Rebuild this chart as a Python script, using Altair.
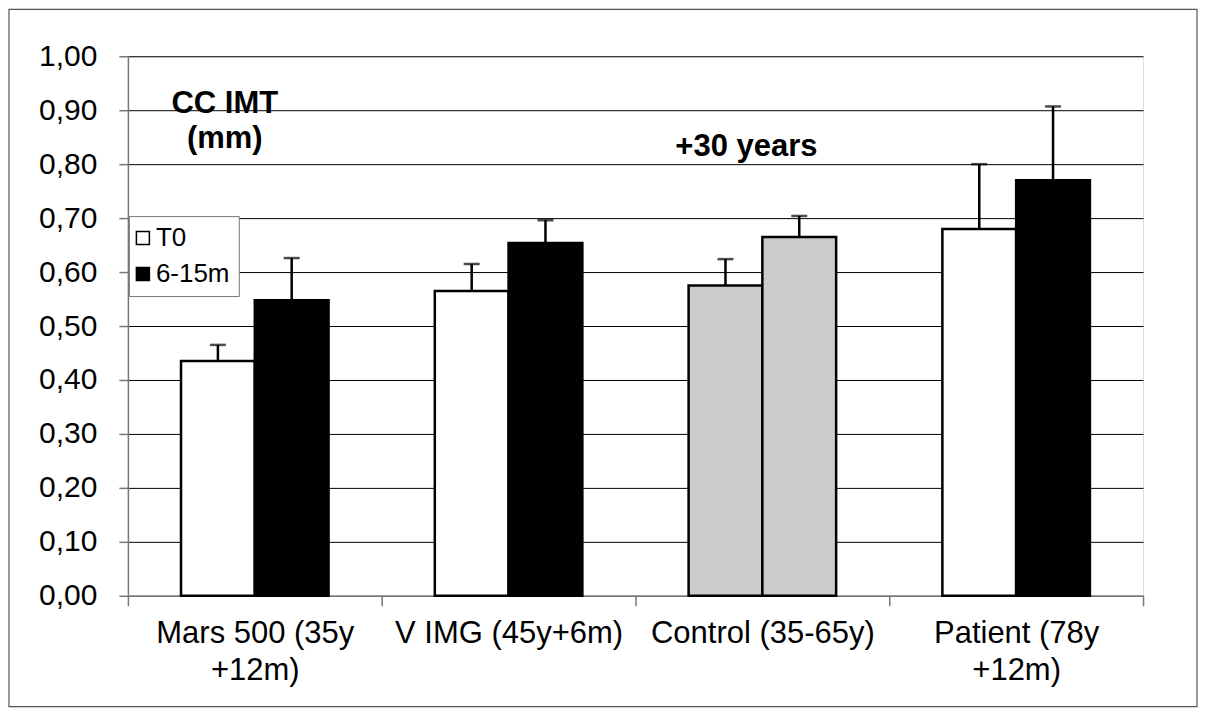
import altair as alt
import pandas as pd

categories = ["Mars 500 (35y\n+12m)", "V IMG (45y+6m)", "Control (35-65y)", "Patient (78y\n+12m)"]
series = ["T0", "6-15m"]
t0_values = [0.435, 0.565, 0.575, 0.680]
m615_values = [0.548, 0.654, 0.665, 0.770]
t0_errors = [0.030, 0.050, 0.049, 0.120]
m615_errors = [0.078, 0.042, 0.039, 0.137]
y_ticks = [0.0, 0.1, 0.2, 0.3, 0.4, 0.5, 0.6, 0.7, 0.8, 0.9, 1.0]
fill_keys = ["T0", "6-15m", "Control"]
fill_colors = ["#ffffff", "#000000", "#cccccc"]

rows = []
for i, c in enumerate(categories):
    for s, vals, errs in ((series[0], t0_values, t0_errors), (series[1], m615_values, m615_errors)):
        rows.append({
            "category": c,
            "series": s,
            "value": vals[i],
            "top": vals[i] + errs[i],
            "fill_key": "Control" if c.startswith("Control") else s,
        })
df = pd.DataFrame(rows)

FONT = "Liberation Sans"

x_axis = alt.Axis(
    title=None, labelAngle=0, tickBand="extent", grid=False, labelLimit=0,
    labelExpr="split(datum.label, '\\n')",
    labelFont=FONT, labelFontSize=31, labelColor="black", labelLineHeight=37,
    labelPadding=13, tickSize=10, tickColor="#777777", domainColor="#777777",
    domainWidth=1.5, tickWidth=1.5,
)
x_scale = alt.Scale(paddingInner=0, paddingOuter=0)
xo_scale = alt.Scale(paddingInner=0, paddingOuter=0.72)

def xenc():
    return alt.X("category:N", sort=categories, scale=x_scale, axis=x_axis)

def xoenc():
    return alt.XOffset("series:N", sort=series, scale=xo_scale)

base = alt.Chart(df)

bars = base.mark_bar(stroke="black", strokeWidth=2.5, opacity=1).encode(
    x=xenc(),
    xOffset=xoenc(),
    y=alt.Y(
        "value:Q",
        scale=alt.Scale(domain=[0, 1], nice=False),
        axis=alt.Axis(
            title=None, values=y_ticks,
            labelExpr="replace(format(datum.value, '.2f'), '.', ',')",
            labelFont=FONT, labelFontSize=30, labelColor="black", labelPadding=22,
            tickSize=9, tickColor="#777777", domainColor="#777777", domainWidth=1.5, tickWidth=1.5,
            grid=True, gridColor="black", gridWidth=1,
        ),
    ),
    fill=alt.Fill(
        "fill_key:N",
        scale=alt.Scale(domain=fill_keys, range=fill_colors),
        legend=alt.Legend(
            orient="none", legendX=1, legendY=160, title=None, values=series,
            symbolType="square", symbolSize=169, symbolStrokeColor="black",
            symbolStrokeWidth=1.5, symbolOpacity=1, symbolOffset=-8,
            labelFont=FONT, labelFontSize=26, labelColor="black", labelOffset=0,
            fillColor="white", strokeColor="#777777", padding=9, rowPadding=10,
        ),
    ),
)

err_rule = base.mark_rule(color="black", strokeWidth=2.5).encode(
    x=xenc(), xOffset=xoenc(), y="value:Q", y2="top:Q"
)
err_cap = base.mark_tick(color="black", size=16, thickness=2.5, orient="horizontal").encode(
    x=xenc(), xOffset=xoenc(), y="top:Q"
)

one = alt.Data(values=[{}])
frame = alt.Chart(one).mark_rect(fillOpacity=0, stroke="#555555", strokeWidth=1.2).encode(
    x=alt.value(-119), x2=alt.value(1070), y=alt.value(-47), y2=alt.value(651)
)

def label(txt, x, y):
    return alt.Chart(one).mark_text(
        font=FONT, fontSize=31, fontWeight="bold", color="black", align="center", baseline="alphabetic"
    ).encode(x=alt.value(x), y=alt.value(y), text=alt.value(txt))

chart = alt.layer(
    frame, bars, err_rule, err_cap,
    label("CC IMT", 97, 57), label("(mm)", 97, 92), label("+30 years", 619, 100),
).properties(
    width=1016, height=540, padding=0,
    autosize=alt.AutoSizeParams(type="pad"),
).configure_view(stroke="#888888", strokeWidth=1.5).configure(background="white")

chart.save("out.html", embed_options={"renderer": "svg", "actions": False})
